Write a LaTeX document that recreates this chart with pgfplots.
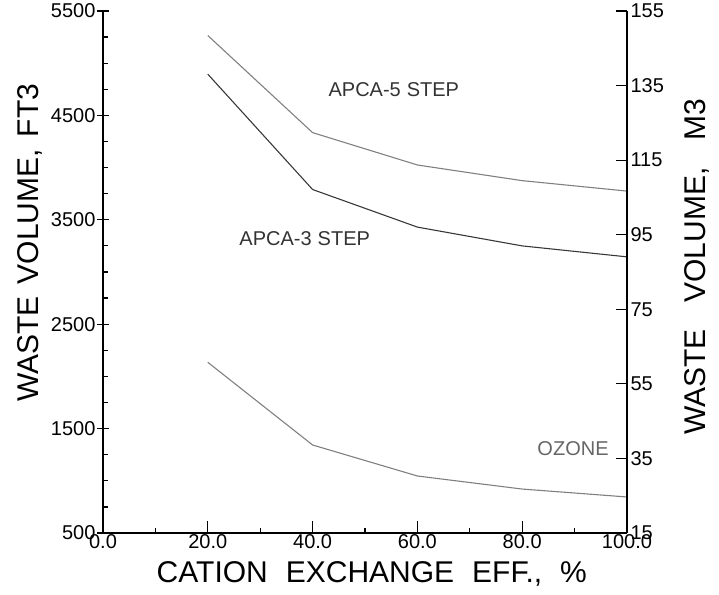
\documentclass[border=0pt]{standalone}
\usepackage{pgfplots}
\pgfplotsset{compat=1.18}
\usepackage{fontspec}
\setmainfont{Liberation Sans}
\begin{document}
\begin{tikzpicture}
\path[use as bounding box] (-103bp,-62bp) rectangle (616bp,533bp);
\begin{axis}[
  at={(0,0)}, anchor=south west,
  scale only axis, width=524bp, height=522bp,
  xmin=0, xmax=100, ymin=500, ymax=5500,
  axis x line*=bottom, axis y line*=left,
  axis line style={line width=1.4bp, -},
  xtick={0,20,...,100}, xticklabels={0.0,20.0,40.0,60.0,80.0,100.0},
  minor x tick num=1,
  ytick={500,1500,2500,3500,4500,5500},
  yticklabels={500,1500,2500,3500,4500,5500},
  minor y tick num=3,
  tick align=inside,
  major tick length=12bp, minor tick length=5bp,
  every tick/.style={black, line width=1.2bp},
  every major y tick/.append style={xshift=-6bp},
  ticklabel style={font=\fontsize{20bp}{22bp}\selectfont},
  /pgf/number format/assume math mode=true,
  xticklabel style={yshift=2bp},
  yticklabel style={xshift=-4bp},
  xlabel={CATION\hspace{0.6em}EXCHANGE\hspace{0.6em}EFF.,\hspace{0.6em}\%},
  xlabel style={at={(axis description cs:0.513,-0.094)}, anchor=base, font=\fontsize{30bp}{32bp}\selectfont},
  ylabel={WASTE\hspace{0.4em}VOLUME,\hspace{0.4em}FT3},
  ylabel style={at={(axis description cs:-0.139,0.556)}, anchor=center, font=\fontsize{30bp}{32bp}\selectfont},
  clip=false,
]
\addplot[black!50, line width=1.1bp] coordinates {(20,5265) (40,4335) (60,4025) (80,3875) (100,3775)};
\addplot[black!78, line width=1.1bp] coordinates {(20,4895) (40,3790) (60,3430) (80,3250) (100,3145)};
\addplot[black!50, line width=1.1bp] coordinates {(20,2135) (40,1343) (60,1046) (80,921) (100,845)};
\node[font=\fontsize{20bp}{22bp}\selectfont, text=black!80] at (axis cs:55.5,4743) {APCA-5\hspace{0.3em}STEP};
\node[font=\fontsize{20bp}{22bp}\selectfont, text=black!80] at (axis cs:38.5,3316) {APCA-3\hspace{0.3em}STEP};
\node[font=\fontsize{20bp}{22bp}\selectfont, text=black!60] at (axis cs:89.7,1305) {OZONE};
\end{axis}
\begin{axis}[
  at={(0,0)}, anchor=south west,
  scale only axis, width=524bp, height=522bp,
  xmin=0, xmax=100, ymin=15, ymax=155,
  axis x line=none, axis y line*=right,
  axis line style={line width=1.4bp, -},
  ytick={15,35,55,75,95,115,135,155},
  yticklabels={15,35,55,75,95,115,135,155},
  tick align=inside,
  major tick length=11bp,
  every tick/.style={black, line width=1.2bp},
  ticklabel style={font=\fontsize{20bp}{22bp}\selectfont},
  /pgf/number format/assume math mode=true,
  yticklabel style={xshift=0bp},
  ylabel={WASTE\hspace{0.9em}VOLUME,\hspace{0.9em}M3},
  ylabel style={at={(axis description cs:1.134,0.51)}, anchor=center, font=\fontsize{30bp}{32bp}\selectfont},
]
\end{axis}
\end{tikzpicture}
\end{document}
